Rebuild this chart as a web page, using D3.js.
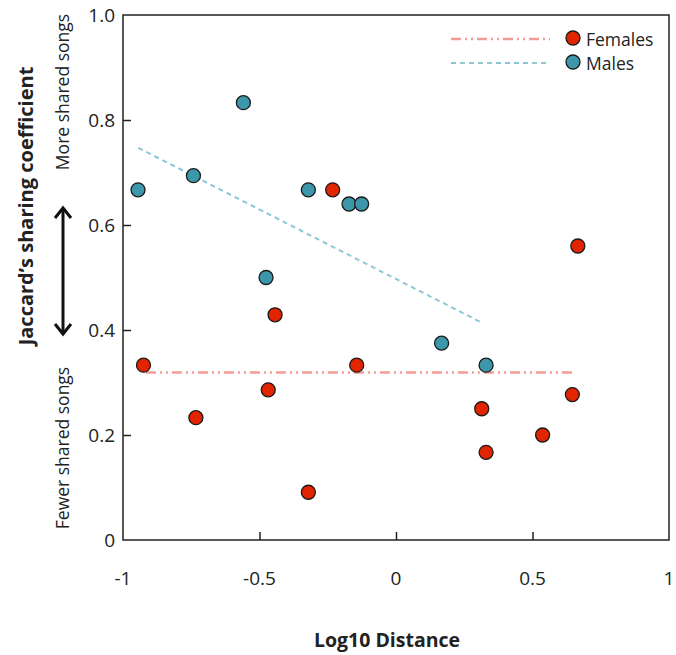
<!DOCTYPE html>
<html>
<head>
<meta charset="utf-8">
<script src="https://cdn.jsdelivr.net/npm/d3@7"></script>
<style>
  body { margin: 0; background: #fff; }
  text { font-family: "Open Sans", sans-serif; fill: #222; }
</style>
</head>
<body>
<div id="chart"></div>
<script>
// Set dimensions and margins
const width = 676;
const height = 655;
const margin = { top: 15, right: 7, bottom: 115, left: 123 };

// Data
const femaleX = [-0.925, -0.733, -0.468, -0.443, -0.321, -0.232, -0.144, 0.314, 0.33, 0.537, 0.646, 0.666];
const femaleY = [0.333, 0.233, 0.286, 0.429, 0.091, 0.667, 0.333, 0.25, 0.167, 0.2, 0.277, 0.56];
const maleX = [-0.945, -0.742, -0.559, -0.476, -0.321, -0.172, -0.126, 0.167, 0.33];
const maleY = [0.667, 0.694, 0.833, 0.5, 0.667, 0.64, 0.64, 0.375, 0.333];
// Trend line end points
const femaleFitX = [-0.916, 0.656];
const femaleFitY = [0.319, 0.319];
const maleFitX = [-0.944, 0.318];
const maleFitY = [0.747, 0.413];
const xTicks = [-1, -0.5, 0, 0.5, 1];
const yTicks = [0, 0.2, 0.4, 0.6, 0.8, 1.0];

const femaleColor = "#e32400";
const maleColor = "#3d97ab";

const svg = d3.select("#chart")
    .append("svg")
    .attr("width", width)
    .attr("height", height);

const x = d3.scaleLinear().domain([-1, 1]).range([margin.left, width - margin.right]);
const y = d3.scaleLinear().domain([0, 1]).range([height - margin.bottom, margin.top]);

// Inward ticks (skip the corners)
svg.append("g")
    .attr("transform", `translate(0,${y(0)})`)
    .call(d3.axisTop(x).tickValues([-0.5, 0, 0.5]).tickSize(8).tickFormat(""))
    .call(g => g.select(".domain").remove())
    .selectAll("line").attr("stroke", "#222").attr("stroke-width", 1.5);

svg.append("g")
    .attr("transform", `translate(${x(-1)},0)`)
    .call(d3.axisRight(y).tickValues([0.2, 0.4, 0.6, 0.8]).tickSize(8).tickFormat(""))
    .call(g => g.select(".domain").remove())
    .selectAll("line").attr("stroke", "#222").attr("stroke-width", 1.5);

// Frame
svg.append("rect")
    .attr("x", x(-1))
    .attr("y", y(1))
    .attr("width", x(1) - x(-1))
    .attr("height", y(0) - y(1))
    .attr("fill", "none")
    .attr("stroke", "#222")
    .attr("stroke-width", 1.5);

// Tick labels
svg.selectAll(".xlabel")
    .data(xTicks)
    .join("text")
    .attr("class", "xlabel")
    .attr("x", d => x(d))
    .attr("y", y(0) + 45)
    .attr("text-anchor", "middle")
    .style("font-size", "19px")
    .text(d => d);

svg.selectAll(".ylabel")
    .data(yTicks)
    .join("text")
    .attr("class", "ylabel")
    .attr("x", x(-1) - 8)
    .attr("y", d => y(d) + 7)
    .attr("text-anchor", "end")
    .style("font-size", "19px")
    .text(d => d === 0 ? "0" : d3.format(".1f")(d));

// Axis titles
svg.append("text")
    .attr("x", 387)
    .attr("y", 647)
    .attr("text-anchor", "middle")
    .style("font-size", "19.5px")
    .style("font-weight", "bold")
    .text("Log10 Distance");

svg.append("text")
    .attr("transform", "translate(33,206) rotate(-90)")
    .attr("text-anchor", "middle")
    .style("font-size", "20px")
    .style("font-weight", "bold")
    .text("Jaccard’s sharing coefficient");

svg.append("text")
    .attr("transform", "translate(69,92) rotate(-90)")
    .attr("text-anchor", "middle")
    .style("font-size", "17.5px")
    .text("More shared songs");

svg.append("text")
    .attr("transform", "translate(69,448) rotate(-90)")
    .attr("text-anchor", "middle")
    .style("font-size", "17.5px")
    .text("Fewer shared songs");

// Double-headed arrow
const ax = 63, aTop = 208, aBot = 334;
svg.append("line")
    .attr("x1", ax).attr("x2", ax)
    .attr("y1", aTop + 2).attr("y2", aBot - 2)
    .attr("stroke", "#111").attr("stroke-width", 3);
svg.append("path")
    .attr("d", `M${ax - 8},${aTop + 10} L${ax},${aTop} L${ax + 8},${aTop + 10}`)
    .attr("fill", "none").attr("stroke", "#111").attr("stroke-width", 3);
svg.append("path")
    .attr("d", `M${ax - 8},${aBot - 10} L${ax},${aBot} L${ax + 8},${aBot - 10}`)
    .attr("fill", "none").attr("stroke", "#111").attr("stroke-width", 3);

// Trend lines
const line = d3.line().x(d => x(d[0])).y(d => y(d[1]));
svg.append("path")
    .datum(d3.zip(maleFitX, maleFitY))
    .attr("d", line)
    .attr("fill", "none")
    .attr("stroke", "#8fc6d6")
    .attr("stroke-width", 2)
    .attr("stroke-dasharray", "5,4");
svg.append("path")
    .datum(d3.zip(femaleFitX, femaleFitY))
    .attr("d", line)
    .attr("fill", "none")
    .attr("stroke", "#f59a94")
    .attr("stroke-width", 2.5)
    .attr("stroke-dasharray", "10,4,2,4,2,4");

// Points
function drawPoints(xs, ys, color) {
    svg.append("g")
        .selectAll("circle")
        .data(d3.zip(xs, ys))
        .join("circle")
        .attr("cx", d => x(d[0]))
        .attr("cy", d => y(d[1]))
        .attr("r", 7)
        .attr("fill", color)
        .attr("stroke", "#1a1a1a")
        .attr("stroke-width", 1.3);
}
drawPoints(maleX, maleY, maleColor);
drawPoints(femaleX, femaleY, femaleColor);

// Legend
const legend = [
    { name: "Females", color: femaleColor, line: "#f59a94", dash: "10,4,2,4,2,4", w: 2.5, yy: 39 },
    { name: "Males", color: maleColor, line: "#8fc6d6", dash: "5,4", w: 2, yy: 63 }
];
const lg = svg.append("g");
lg.selectAll("line")
    .data(legend)
    .join("line")
    .attr("x1", 451).attr("x2", 550)
    .attr("y1", d => d.yy).attr("y2", d => d.yy)
    .attr("stroke", d => d.line)
    .attr("stroke-width", d => d.w)
    .attr("stroke-dasharray", d => d.dash);
lg.selectAll("circle")
    .data(legend)
    .join("circle")
    .attr("cx", 573).attr("cy", d => d.yy - 1)
    .attr("r", 7)
    .attr("fill", d => d.color)
    .attr("stroke", "#1a1a1a")
    .attr("stroke-width", 1.3);
lg.selectAll("text")
    .data(legend)
    .join("text")
    .attr("x", 586)
    .attr("y", d => d.yy + 7)
    .style("font-size", "17.5px")
    .text(d => d.name);
</script>
</body>
</html>
